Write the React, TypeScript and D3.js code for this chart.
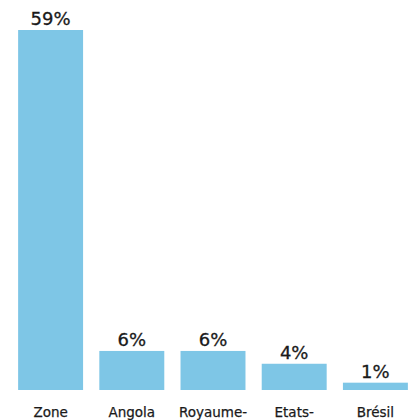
import React from "react";
import * as d3 from "d3";

const categories = ["Zone", "Angola", "Royaume-", "Etats-", "Brésil"];
const values = [59, 6.4, 6.4, 4.3, 1.2];
const valueLabels = ["59%", "6%", "6%", "4%", "1%"];

const W = 412;
const H = 420;
const baseline = 390;
const topY = 30;

export default function App() {
  const x = d3
    .scaleBand<string>()
    .domain(categories)
    .range([10, 416])
    .paddingInner(0.2)
    .paddingOuter(0.1);
  const y = d3.scaleLinear().domain([0, 59]).range([baseline, topY]);
  const font = "'DejaVu Sans', sans-serif";
  return (
    <svg
      width={W}
      height={H}
      style={{ position: "absolute", left: 0, top: 0, background: "#fff" }}
    >
      {categories.map((c, i) => {
        const bx = x(c)!;
        const bw = x.bandwidth();
        const ty = y(values[i]);
        return (
          <g key={c}>
            <rect x={bx} y={ty} width={bw} height={baseline - ty} fill="#7ec6e6" />
            <text
              x={bx + bw / 2}
              y={ty - 5}
              textAnchor="middle"
              fontFamily={font}
              fontSize={18}
              fill="#1a1a1a"
              stroke="#1a1a1a"
              strokeWidth={0.3}
            >
              {valueLabels[i]}
            </text>
            <text
              x={bx + bw / 2}
              y={416.5}
              textAnchor="middle"
              fontFamily={font}
              fontSize={13.5}
              fill="#1a1a1a"
              stroke="#1a1a1a"
              strokeWidth={0.25}
            >
              {c}
            </text>
          </g>
        );
      })}
    </svg>
  );
}
